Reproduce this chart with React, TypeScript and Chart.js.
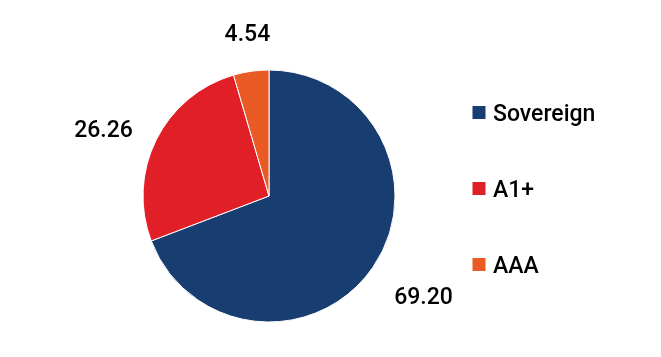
import React, { useEffect, useRef } from "react";
import { Chart, registerables } from "chart.js";

Chart.register(...registerables);

const categories = ["Sovereign", "A1+", "AAA"];
const values = [69.2, 26.26, 4.54];
const valueLabels = ["69.20", "26.26", "4.54"];
const colors = ["#183d71", "#e11f27", "#e95a24"];

const FONT = "500 23px Roboto";
const TEXT_COLOR = "#000000";

const outsideLabels = {
  id: "outsideLabels",
  afterDatasetsDraw(chart: any) {
    const ctx = chart.ctx;
    const meta = chart.getDatasetMeta(0);
    ctx.save();
    ctx.font = FONT;
    ctx.fillStyle = TEXT_COLOR;
    ctx.textAlign = "center";
    ctx.textBaseline = "alphabetic";
    meta.data.forEach((arc: any, i: number) => {
      const { x, y, startAngle, endAngle, outerRadius } = arc.getProps(
        ["x", "y", "startAngle", "endAngle", "outerRadius"],
        true
      );
      const mid = (startAngle + endAngle) / 2;
      const cos = Math.cos(mid);
      const sin = Math.sin(mid);
      const text = valueLabels[i];
      const m = ctx.measureText(text);
      const halfW = m.width / 2;
      const capH = m.actualBoundingBoxAscent;
      const d = outerRadius + 26;
      const ax = x + cos * d;
      const ay = y + sin * d;
      const sx = cos > 0.5 ? 1 : cos < -0.5 ? -1 : 0;
      const sy = sin > 0.5 ? 1 : sin < -0.5 ? -1 : 0;
      const cx = ax + sx * halfW;
      const cy = ay + sy * (capH / 2 + 4.5);
      ctx.fillText(text, cx, cy + capH / 2);
    });
    ctx.restore();
  },
};

const sideLegend = {
  id: "sideLegend",
  afterDraw(chart: any) {
    const ctx = chart.ctx;
    const boxX = 472.5;
    const centerY = 188.5;
    const step = 76;
    const box = 13;
    ctx.save();
    ctx.font = FONT;
    ctx.textAlign = "left";
    ctx.textBaseline = "alphabetic";
    categories.forEach((name, i) => {
      const cy = centerY + (i - (categories.length - 1) / 2) * step;
      ctx.fillStyle = colors[i];
      ctx.fillRect(boxX, cy - box / 2, box, box);
      const capH = ctx.measureText("S").actualBoundingBoxAscent;
      ctx.fillStyle = TEXT_COLOR;
      ctx.fillText(name, boxX + box + 7.5, cy + capH / 2);
    });
    ctx.restore();
  },
};

export default function App() {
  const ref = useRef<HTMLCanvasElement | null>(null);
  useEffect(() => {
    if (!ref.current) return;
    const chart = new Chart(ref.current, {
      type: "pie",
      data: {
        labels: categories,
        datasets: [
          {
            data: values,
            backgroundColor: colors,
            borderColor: "#ffffff",
            borderWidth: 1,
            hoverOffset: 0,
          },
        ],
      },
      options: {
        animation: false,
        responsive: true,
        maintainAspectRatio: false,
        radius: 126,
        layout: { padding: { left: 143, right: 266, top: 70, bottom: 35 } },
        plugins: {
          legend: { display: false },
          tooltip: { enabled: false },
        },
      } as any,
      plugins: [outsideLabels, sideLegend],
    });
    return () => chart.destroy();
  }, []);
  return (
    <div style={{ position: "fixed", left: 0, top: 0, width: 661, height: 357, background: "#fff" }}>
      <canvas ref={ref} />
    </div>
  );
}
